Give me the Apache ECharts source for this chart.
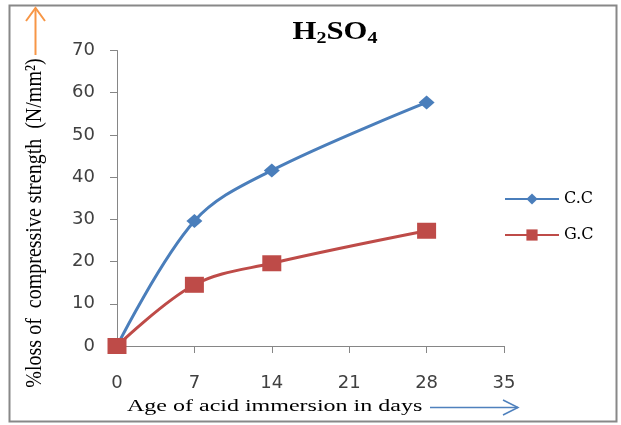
<!DOCTYPE html>
<html><head><meta charset="utf-8">
<script src="https://cdn.jsdelivr.net/npm/echarts@6/dist/echarts.min.js"></script>
<style>html,body{margin:0;padding:0;background:#fff}#c{width:621px;height:425px}</style>
</head><body><div id="c"></div>
<script>
const days = [0, 7, 14, 28];
const ccValues = [0, 29.6, 41.6, 57.7];
const gcValues = [0, 14.5, 19.6, 27.3];
const seriesNames = ['C.C', 'G.C'];
const xTicks = [0, 7, 14, 21, 28, 35];
const yTicks = [0, 10, 20, 30, 40, 50, 60, 70];
const titleText = 'H{s|2}SO{s|4}';
const xName = 'Age of acid immersion in days';
const yName = '%loss of  compressive strength  (N/mm²)';

const chart = echarts.init(document.getElementById('c'));
const serif = 'Liberation Serif';
const sans = 'DejaVu Sans';
chart.setOption({
  animation: false,
  grid: { left: 117, right: 117, top: 50.5, bottom: 79, containLabel: false },
  legend: {
    orient: 'vertical', left: 504, top: 191, padding: 0, itemWidth: 54, itemHeight: 14, itemGap: 20,
    textStyle: { fontFamily: 'DejaVu Serif', fontSize: 16, color: '#000' },
    data: seriesNames
  },
  xAxis: {
    type: 'value', min: xTicks[0], max: xTicks[xTicks.length - 1], interval: 7,
    axisLine: { lineStyle: { color: '#868686', width: 1 } },
    axisTick: { show: true, length: 7, lineStyle: { color: '#868686' } },
    axisLabel: { fontFamily: sans, fontSize: 18, color: '#404040', margin: 28 },
    splitLine: { show: false }
  },
  yAxis: {
    type: 'value', min: yTicks[0], max: yTicks[yTicks.length - 1], interval: 10,
    axisLine: { show: true, lineStyle: { color: '#868686', width: 1 } },
    axisTick: { show: true, length: 7, lineStyle: { color: '#868686' } },
    axisLabel: { fontFamily: sans, fontSize: 18, color: '#404040', margin: 22 },
    splitLine: { show: false }
  },
  series: [
    {
      name: seriesNames[0], type: 'line', smooth: 0.35,
      data: days.map((d, i) => [d, ccValues[i]]),
      symbol: 'diamond', symbolSize: [16, 14],
      itemStyle: { color: '#4A7EBB' }, lineStyle: { color: '#4A7EBB', width: 3 }
    },
    {
      name: seriesNames[1], type: 'line', smooth: 0.35,
      data: days.map((d, i) => [d, gcValues[i]]),
      symbol: 'rect', symbolSize: [19, 16],
      itemStyle: { color: '#BE4B48' }, lineStyle: { color: '#BE4B48', width: 3 }
    }
  ],
  graphic: [
    { type: 'rect', shape: { x: 9.5, y: 5.5, width: 607, height: 416 }, style: { fill: 'none', stroke: '#888', lineWidth: 2 }, z: -1 },
    { type: 'text', x: 335, y: 18, scaleX: 1.18, style: {
        text: titleText, align: 'center', verticalAlign: 'top',
        fontFamily: serif, fontWeight: 'bold', fontSize: 26, fill: '#000',
        rich: { s: { fontFamily: serif, fontWeight: 'bold', fontSize: 17, fill: '#000', padding: [12, 0, 0, 0] } }
      } },
    { type: 'text', x: 127, y: 407, scaleX: 1.5, style: { text: xName, verticalAlign: 'middle', fontFamily: serif, fontSize: 16, fill: '#000' } },
    { type: 'text', x: 35, y: 223, rotation: Math.PI / 2, scaleY: 1.15, style: { text: yName, align: 'center', verticalAlign: 'middle', fontFamily: serif, fontSize: 20, fill: '#000' } },
    { type: 'line', shape: { x1: 430, y1: 407.5, x2: 518, y2: 407.5 }, style: { stroke: '#4F81BD', lineWidth: 1.5 } },
    { type: 'polyline', shape: { points: [[503, 400], [518, 407.5], [503, 415]] }, style: { stroke: '#4F81BD', lineWidth: 1.5, fill: 'none' } },
    { type: 'line', shape: { x1: 35.5, y1: 55, x2: 35.5, y2: 8 }, style: { stroke: '#F79646', lineWidth: 2 } },
    { type: 'polyline', shape: { points: [[26, 21], [35.5, 8], [45, 21]] }, style: { stroke: '#F79646', lineWidth: 2, fill: 'none' } }
  ]
});
</script></body></html>
